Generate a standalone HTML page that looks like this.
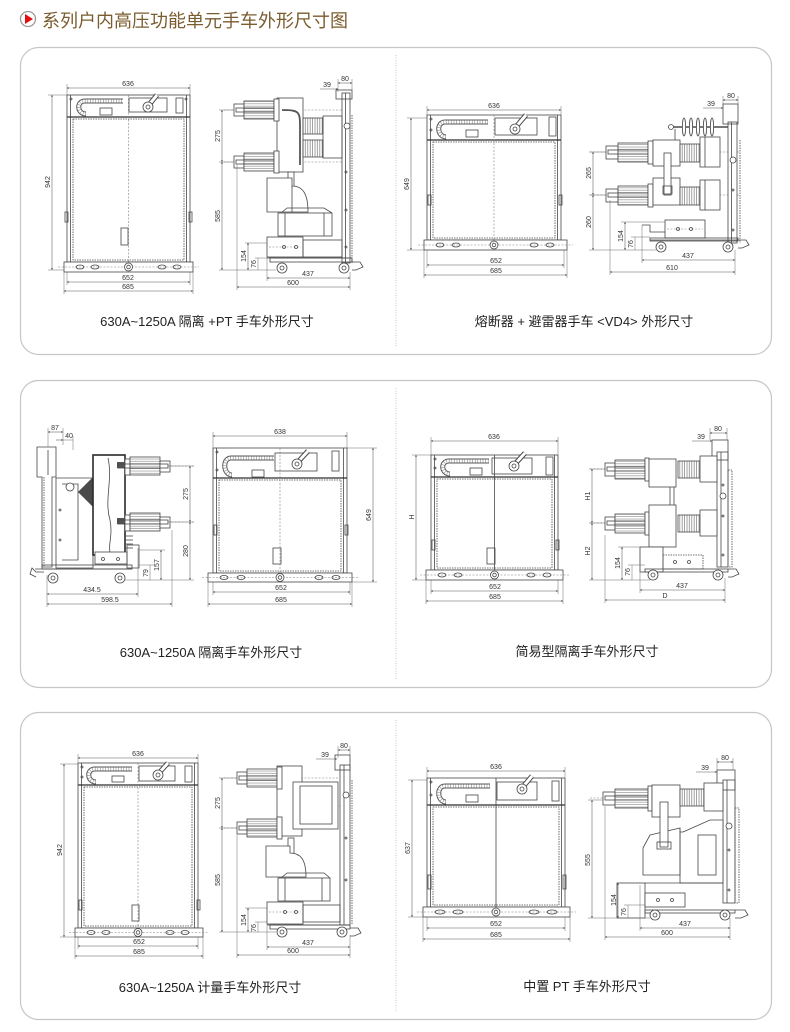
<!DOCTYPE html>
<html><head><meta charset="utf-8">
<style>
html,body{margin:0;padding:0;background:#fff;}
svg{display:block}
.m{fill:none;stroke:#464646;stroke-width:0.8}
.w{fill:#fff;stroke:#464646;stroke-width:0.8}
.k{fill:none;stroke:#2e2e2e;stroke-width:1.3}
.d{fill:none;stroke:#6a6a6a;stroke-width:0.5}
.a{fill:none;stroke:#585858;stroke-width:0.55;marker-start:url(#ar);marker-end:url(#ar)}
.e{fill:none;stroke:#585858;stroke-width:0.55;marker-end:url(#ar)}
.c{fill:none;stroke:#808080;stroke-width:0.6;stroke-dasharray:2 1.5}
.t{font-family:"Liberation Sans",sans-serif;font-size:7px;fill:#333;text-anchor:middle}
.cap{font-family:"Liberation Sans","Noto Sans CJK SC",sans-serif;font-size:13px;fill:#222;text-anchor:middle}
.p{fill:#fff;stroke:#c6c6c6;stroke-width:1.2}
.dv{stroke:#bbb;stroke-width:0.8;stroke-dasharray:1 1.5}
.ch1{fill:none;stroke:#5a5a5a;stroke-width:5}
.ch2{fill:none;stroke:#fff;stroke-width:3}
.ch3{fill:none;stroke:#8a8a8a;stroke-width:3;stroke-dasharray:0.6 2}
.hb{stroke:#484848;stroke-width:5}
.hw{stroke:#fff;stroke-width:3}
</style></head><body>
<svg width="790" height="1032" viewBox="0 0 790 1032" xmlns="http://www.w3.org/2000/svg">
<defs>
<marker id="ar" viewBox="0 0 6 6" refX="5.5" refY="3" markerWidth="4" markerHeight="4" orient="auto-start-reverse"><path d="M0,0.8 L6,3 L0,5.2z" fill="#444"/></marker>
<pattern id="hv" width="2.4" height="10" patternUnits="userSpaceOnUse"><rect width="2.4" height="10" fill="#fff"/><line x1="0.6" y1="0" x2="0.6" y2="10" stroke="#707070" stroke-width="0.65"/></pattern>
<pattern id="hh" width="10" height="2.4" patternUnits="userSpaceOnUse"><rect width="10" height="2.4" fill="#fff"/><line x1="0" y1="0.6" x2="10" y2="0.6" stroke="#7a7a7a" stroke-width="0.55"/></pattern>
</defs>

<!-- Title -->
<circle cx="28" cy="19" r="7.5" fill="#fff" stroke="#999" stroke-width="1.3"/>
<polygon points="25,14 25,24 33,19" fill="#e01010"/>
<text x="42" y="27" style="font-family:'Liberation Sans','Noto Sans CJK SC',sans-serif;font-size:18px;fill:#7a5c2e">系列户内高压功能单元手车外形尺寸图</text>

<!-- Panels -->
<rect class="p" x="20.5" y="47.5" width="751" height="307" rx="18"/>
<rect class="p" x="20.5" y="380.5" width="751" height="307" rx="18"/>
<rect class="p" x="20.5" y="712.5" width="751" height="307" rx="18"/>
<line class="dv" x1="396" y1="55" x2="396" y2="347"/>
<line class="dv" x1="396" y1="388" x2="396" y2="680"/>
<line class="dv" x1="396" y1="720" x2="396" y2="1012"/>

<!-- ============ PANEL 1 LEFT FRONT (A) ============ -->
<g>
<rect class="w" x="67" y="95" width="123" height="167"/>
<line class="m" x1="70.5" y1="95" x2="70.5" y2="262"/>
<line class="m" x1="186.5" y1="95" x2="186.5" y2="262"/>
<line class="k" x1="67" y1="117" x2="190" y2="117"/>
<rect class="m" x="73" y="119" width="111" height="141" stroke-dasharray="1.5 1"/>
<line class="c" x1="128.5" y1="95" x2="128.5" y2="262"/>
<path class="ch1" d="M86,114 C77,114 76,101 85,101 L123,101"/>
<path class="ch2" d="M86,114 C77,114 76,101 85,101 L123,101"/>
<path class="ch3" d="M86,114 C77,114 76,101 85,101 L123,101"/>
<rect class="m" x="100" y="108" width="12" height="7"/>
<rect class="m" x="129" y="98" width="38" height="14"/>
<line class="hb" x1="148" y1="106" x2="157" y2="95"/><line class="hw" x1="148" y1="106" x2="157" y2="95"/>
<circle class="w" cx="148" cy="107" r="5"/><circle class="m" cx="148" cy="107" r="2"/>
<rect class="m" x="176" y="98" width="7" height="15"/>
<circle class="m" cx="71" cy="99" r="1"/><circle class="m" cx="186" cy="99" r="1"/>
<rect class="m" x="121" y="228" width="7" height="17"/>
<rect class="m" x="65" y="212" width="3" height="10"/><rect class="m" x="189" y="212" width="3" height="10"/>
<rect class="w" x="64" y="262" width="129" height="10"/>
<line class="c" x1="58" y1="267" x2="199" y2="267"/>
<circle class="w" cx="128.5" cy="267" r="4"/><circle class="m" cx="128.5" cy="267" r="1.8"/>
<ellipse class="m" cx="80" cy="267" rx="4" ry="2"/><ellipse class="m" cx="95" cy="267" rx="4" ry="2"/>
<ellipse class="m" cx="162" cy="267" rx="4" ry="2"/><ellipse class="m" cx="177" cy="267" rx="4" ry="2"/>
<line class="d" x1="67" y1="84" x2="67" y2="95"/><line class="d" x1="190" y1="84" x2="190" y2="95"/>
<line class="a" x1="67" y1="88" x2="190" y2="88"/><text class="t" x="128" y="86">636</text>
<line class="d" x1="48" y1="95" x2="67" y2="95"/><line class="d" x1="48" y1="270" x2="64" y2="270"/>
<line class="a" x1="52" y1="95" x2="52" y2="270"/><text class="t" transform="translate(50,182) rotate(-90)">942</text>
<line class="d" x1="67" y1="272" x2="67" y2="285"/><line class="d" x1="190" y1="272" x2="190" y2="285"/>
<line class="d" x1="64" y1="272" x2="64" y2="294"/><line class="d" x1="193" y1="272" x2="193" y2="294"/>
<line class="a" x1="67" y1="282" x2="190" y2="282"/><text class="t" x="128" y="280">652</text>
<line class="a" x1="64" y1="291" x2="193" y2="291"/><text class="t" x="128" y="289">685</text>
</g>

<!-- ============ PANEL 1 LEFT SIDE (PT) ============ -->
<g>
<line class="c" x1="224" y1="110" x2="345" y2="110"/>
<line class="c" x1="224" y1="162" x2="345" y2="162"/>
<rect class="w" x="342" y="93" width="8" height="170"/>
<line class="m" x1="345.5" y1="93" x2="345.5" y2="263"/>
<line class="m" x1="352" y1="115" x2="352" y2="263" stroke-dasharray="1.5 1"/>
<rect class="m" x="336" y="90" width="16" height="9"/>
<circle class="w" cx="347" cy="126" r="3"/>
<circle class="m" cx="346" cy="172" r="1"/><circle class="m" cx="346" cy="210" r="1"/><circle class="m" cx="346" cy="247" r="1"/>
<rect class="w" x="277" y="98" width="26" height="74"/>
<rect class="w" x="234" y="104" width="10" height="12"/>
<rect x="244" y="101" width="30" height="18" fill="url(#hh)" stroke="#464646" stroke-width="0.8"/>
<rect class="m" x="236" y="108" width="42" height="4"/>
<rect class="w" x="274" y="99" width="5" height="22"/>
<path d="M282,110 C300,110 300,112 300,128 L300,165" fill="none" stroke="#555" stroke-width="1.8"/>
<rect x="303" y="118" width="20" height="16" fill="url(#hv)" stroke="#464646" stroke-width="0.8"/>
<rect x="303" y="140" width="20" height="17" fill="url(#hv)" stroke="#464646" stroke-width="0.8"/>
<rect class="m" x="323" y="116" width="19" height="42"/>
<rect class="w" x="234" y="156" width="10" height="12"/>
<rect x="244" y="153" width="30" height="18" fill="url(#hh)" stroke="#464646" stroke-width="0.8"/>
<rect class="m" x="236" y="160" width="42" height="4"/>
<rect class="w" x="274" y="151" width="5" height="22"/>
<rect class="w" x="288" y="172" width="6" height="36"/><rect class="m" x="287" y="203" width="8" height="5"/>
<path class="w" d="M267,178 L292,178 L292,186 C303,186 308,194 308,212 L267,212 Z"/>
<line class="m" x1="292" y1="186" x2="292" y2="212"/>
<path class="m" d="M281,213 L287,208 L324,208 L332,213"/>
<rect class="w" x="278" y="213" width="54" height="23"/>
<line class="m" x1="285" y1="213" x2="285" y2="236"/><line class="m" x1="324" y1="213" x2="324" y2="236"/>
<rect class="w" x="267" y="237" width="36" height="20"/>
<line class="c" x1="269" y1="247" x2="301" y2="247"/>
<circle class="m" cx="284" cy="247" r="1.5"/><circle class="m" cx="296" cy="247" r="1.5"/>
<rect class="m" x="303" y="240" width="39" height="17"/>
<line class="m" x1="267" y1="258" x2="352" y2="258"/>
<rect class="m" x="270" y="258" width="82" height="4"/>
<circle class="w" cx="282" cy="268" r="5"/><circle class="m" cx="282" cy="268" r="2"/>
<circle class="w" cx="344" cy="268" r="5"/><circle class="m" cx="344" cy="268" r="2"/>
<path class="m" d="M352,262 L360,262 L363,267 L356,270 L352,270"/>
<line class="d" x1="219" y1="110" x2="234" y2="110"/><line class="d" x1="219" y1="162" x2="234" y2="162"/><line class="d" x1="219" y1="270" x2="276" y2="270"/>
<line class="a" x1="222" y1="110" x2="222" y2="162"/><text class="t" transform="translate(220,136) rotate(-90)">275</text>
<line class="a" x1="222" y1="162" x2="222" y2="270"/><text class="t" transform="translate(220,216) rotate(-90)">585</text>
<line class="d" x1="245" y1="243" x2="267" y2="243"/><line class="d" x1="255" y1="258" x2="267" y2="258"/>
<line class="a" x1="248" y1="243" x2="248" y2="270"/><text class="t" transform="translate(246,256) rotate(-90)">154</text>
<line class="d" x1="258" y1="258" x2="258" y2="270"/><text class="t" transform="translate(256,264) rotate(-90)">76</text>
<line class="d" x1="237" y1="165" x2="237" y2="290"/><line class="d" x1="267" y1="258" x2="267" y2="281"/><line class="d" x1="350" y1="272" x2="350" y2="290"/>
<line class="a" x1="267" y1="278" x2="350" y2="278"/><text class="t" x="308" y="276">437</text>
<line class="a" x1="237" y1="287" x2="350" y2="287"/><text class="t" x="293" y="285">600</text>
<line class="d" x1="338" y1="79" x2="338" y2="92"/><line class="d" x1="352" y1="79" x2="352" y2="90"/>
<line class="a" x1="338" y1="83" x2="352" y2="83"/><text class="t" x="345" y="81">80</text>
<line class="e" x1="320" y1="89" x2="338" y2="89"/><text class="t" x="327" y="87">39</text>
</g>

<text class="cap" x="207" y="326">630A~1250A 隔离 +PT 手车外形尺寸</text>

<!-- ============ PANEL 1 RIGHT FRONT (B) ============ -->
<g>
<rect class="w" x="427" y="115" width="134" height="125"/>
<line class="m" x1="430.5" y1="115" x2="430.5" y2="240"/>
<line class="m" x1="557.5" y1="115" x2="557.5" y2="240"/>
<line class="k" x1="427" y1="140" x2="561" y2="140"/>
<rect class="m" x="433" y="142" width="122" height="96" stroke-dasharray="1.5 1"/>
<line class="c" x1="494" y1="115" x2="494" y2="240"/>
<path class="ch1" d="M446,137 C437,137 436,122 445,122 L488,122"/>
<path class="ch2" d="M446,137 C437,137 436,122 445,122 L488,122"/>
<path class="ch3" d="M446,137 C437,137 436,122 445,122 L488,122"/>
<rect class="m" x="466" y="130" width="12" height="7"/>
<rect class="m" x="495" y="118" width="42" height="17"/>
<line class="hb" x1="515" y1="128" x2="526" y2="115"/><line class="hw" x1="515" y1="128" x2="526" y2="115"/>
<circle class="w" cx="515" cy="129" r="5"/><circle class="m" cx="515" cy="129" r="2"/>
<rect class="m" x="549" y="117" width="7" height="19"/>
<circle class="m" cx="431" cy="119" r="1"/><circle class="m" cx="431" cy="130" r="1"/>
<rect class="m" x="428" y="195" width="3" height="10"/><rect class="m" x="559" y="195" width="3" height="10"/>
<rect class="w" x="424" y="240" width="143" height="10"/>
<line class="c" x1="418" y1="245" x2="573" y2="245"/>
<circle class="w" cx="494" cy="245" r="4"/><circle class="m" cx="494" cy="245" r="1.8"/>
<ellipse class="m" cx="440" cy="245" rx="4" ry="2"/><ellipse class="m" cx="456" cy="245" rx="4" ry="2"/>
<ellipse class="m" cx="534" cy="245" rx="4" ry="2"/><ellipse class="m" cx="550" cy="245" rx="4" ry="2"/>
<line class="d" x1="427" y1="106" x2="427" y2="115"/><line class="d" x1="561" y1="106" x2="561" y2="115"/>
<line class="a" x1="427" y1="110" x2="561" y2="110"/><text class="t" x="494" y="108">636</text>
<line class="d" x1="407" y1="118" x2="427" y2="118"/><line class="d" x1="407" y1="250" x2="424" y2="250"/>
<line class="a" x1="411" y1="118" x2="411" y2="250"/><text class="t" transform="translate(409,184) rotate(-90)">649</text>
<line class="d" x1="427" y1="250" x2="427" y2="268"/><line class="d" x1="564" y1="250" x2="564" y2="268"/>
<line class="d" x1="424" y1="250" x2="424" y2="278"/><line class="d" x1="567" y1="250" x2="567" y2="278"/>
<line class="a" x1="427" y1="265" x2="564" y2="265"/><text class="t" x="496" y="263">652</text>
<line class="a" x1="424" y1="275" x2="567" y2="275"/><text class="t" x="496" y="273">685</text>
</g>

<!-- ============ PANEL 1 RIGHT SIDE (VD4 fuse+arrester) ============ -->
<g>
<line class="c" x1="590" y1="152" x2="740" y2="152"/>
<line class="c" x1="590" y1="195" x2="740" y2="195"/>
<rect class="w" x="728" y="122" width="9" height="121"/>
<line class="m" x1="731.5" y1="122" x2="731.5" y2="243"/>
<line class="m" x1="740" y1="140" x2="740" y2="243" stroke-dasharray="1.5 1"/>
<rect class="m" x="723" y="104" width="15" height="20"/>
<circle class="w" cx="733" cy="160" r="3"/>
<circle class="m" cx="733" cy="190" r="1"/><circle class="m" cx="733" cy="230" r="1"/>
<line x1="673" y1="127" x2="728" y2="127" stroke="#4a4a4a" stroke-width="1.5"/>
<ellipse class="w" cx="684" cy="127" rx="1.6" ry="9"/><ellipse class="w" cx="691" cy="127" rx="1.6" ry="9"/>
<ellipse class="w" cx="698" cy="127" rx="1.6" ry="9"/><ellipse class="w" cx="705" cy="127" rx="1.6" ry="9"/>
<ellipse class="w" cx="712" cy="127" rx="1.6" ry="9"/>
<circle class="w" cx="671" cy="127" r="2.5"/>
<line class="m" x1="675" y1="129" x2="675" y2="142"/>
<rect class="w" x="606" y="146" width="12" height="13"/>
<rect x="618" y="143" width="30" height="19" fill="url(#hh)" stroke="#464646" stroke-width="0.8"/>
<rect class="m" x="608" y="150" width="42" height="4"/>
<rect class="w" x="648" y="141" width="5" height="23"/>
<rect class="w" x="653" y="140" width="27" height="26"/>
<rect x="680" y="144" width="20" height="18" fill="url(#hv)" stroke="#464646" stroke-width="0.8"/>
<rect class="w" x="700" y="137" width="20" height="30"/>
<line class="m" x1="705" y1="137" x2="705" y2="167"/>
<rect class="w" x="606" y="189" width="12" height="13"/>
<rect x="618" y="186" width="30" height="19" fill="url(#hh)" stroke="#464646" stroke-width="0.8"/>
<rect class="m" x="608" y="193" width="42" height="4"/>
<rect class="w" x="648" y="184" width="5" height="23"/>
<rect class="w" x="653" y="178" width="27" height="27"/>
<rect x="680" y="187" width="20" height="18" fill="url(#hv)" stroke="#464646" stroke-width="0.8"/>
<rect class="w" x="700" y="180" width="20" height="30"/>
<line class="m" x1="705" y1="180" x2="705" y2="210"/>
<rect class="w" x="664" y="153" width="7" height="42"/>
<rect class="m" x="663" y="186" width="9" height="8"/>
<rect class="w" x="665" y="220" width="40" height="18"/>
<line class="c" x1="667" y1="229" x2="703" y2="229"/>
<circle class="m" cx="678" cy="229" r="1.5"/><circle class="m" cx="691" cy="229" r="1.5"/>
<path class="m" d="M642,225 L650,225 L650,232 L665,232"/>
<line class="m" x1="650" y1="240" x2="738" y2="240"/>
<rect class="m" x="650" y="238" width="88" height="3"/>
<circle class="w" cx="661" cy="247" r="5"/><circle class="m" cx="661" cy="247" r="2"/>
<circle class="w" cx="728" cy="247" r="5"/><circle class="m" cx="728" cy="247" r="2"/>
<path class="m" d="M738,240 L746,240 L749,245 L742,248 L738,248"/>
<line class="d" x1="589" y1="152" x2="606" y2="152"/><line class="d" x1="589" y1="195" x2="606" y2="195"/><line class="d" x1="589" y1="250" x2="656" y2="250"/>
<line class="a" x1="593" y1="152" x2="593" y2="195"/><text class="t" transform="translate(591,173) rotate(-90)">265</text>
<line class="a" x1="593" y1="195" x2="593" y2="250"/><text class="t" transform="translate(591,222) rotate(-90)">260</text>
<line class="d" x1="621" y1="222" x2="665" y2="222"/><line class="d" x1="631" y1="237" x2="650" y2="237"/>
<line class="a" x1="625" y1="222" x2="625" y2="250"/><text class="t" transform="translate(623,236) rotate(-90)">154</text>
<line class="d" x1="635" y1="237" x2="635" y2="250"/><text class="t" transform="translate(633,244) rotate(-90)">76</text>
<line class="d" x1="642" y1="225" x2="642" y2="263"/><line class="d" x1="735" y1="250" x2="735" y2="275"/><line class="d" x1="610" y1="200" x2="610" y2="275"/>
<line class="a" x1="642" y1="260" x2="735" y2="260"/><text class="t" x="688" y="258">437</text>
<line class="a" x1="610" y1="272" x2="735" y2="272"/><text class="t" x="672" y="270">610</text>
<line class="d" x1="723" y1="96" x2="723" y2="104"/><line class="d" x1="738" y1="96" x2="738" y2="104"/>
<line class="a" x1="723" y1="100" x2="738" y2="100"/><text class="t" x="731" y="98">80</text>
<line class="e" x1="703" y1="108" x2="723" y2="108"/><text class="t" x="711" y="106">39</text>
</g>

<text class="cap" x="584" y="326">熔断器 + 避雷器手车 &lt;VD4&gt; 外形尺寸</text>

<!-- ============ PANEL 2 LEFT SIDE (mirrored) ============ -->
<g>
<line class="c" x1="115" y1="466" x2="195" y2="466"/>
<line class="c" x1="115" y1="522" x2="195" y2="522"/>
<path class="w" d="M37,447 L56,447 L56,477 L52,477 L52,567 L42,567 L42,477 L37,477 Z"/>
<line class="m" x1="44" y1="477" x2="44" y2="567" stroke-dasharray="1.5 1"/>
<line class="m" x1="48" y1="450" x2="48" y2="475"/>
<path class="w" d="M56,478 L93,478 L93,568 L56,568 Z"/>
<path class="m" d="M62,484 L78,484 L78,560 L62,560"/>
<circle class="w" cx="70" cy="487" r="4"/>
<circle class="m" cx="60" cy="510" r="1"/><circle class="m" cx="60" cy="540" r="1"/>
<polygon points="78,492 93,477 93,507" fill="#4a4a4a"/>
<rect x="93" y="455" width="32" height="100" fill="#fff" stroke="#2a2a2a" stroke-width="1.6"/>
<path class="m" d="M108,458 C113,480 104,500 110,520 C113,535 108,545 110,552"/>
<rect x="117" y="462" width="8" height="6" fill="#555"/>
<rect x="117" y="518" width="8" height="6" fill="#555"/>
<rect class="w" x="125" y="459" width="5" height="16"/>
<rect x="130" y="457" width="30" height="18" fill="url(#hh)" stroke="#464646" stroke-width="0.8"/>
<rect class="w" x="160" y="461" width="10" height="11"/>
<rect class="m" x="118" y="464" width="50" height="4"/>
<rect class="w" x="125" y="515" width="5" height="16"/>
<rect x="130" y="513" width="30" height="18" fill="url(#hh)" stroke="#464646" stroke-width="0.8"/>
<rect class="w" x="160" y="517" width="10" height="11"/>
<rect class="m" x="118" y="520" width="50" height="4"/>
<line class="m" x1="125" y1="536" x2="133" y2="536"/><line class="m" x1="125" y1="540" x2="133" y2="540"/>
<line class="m" x1="125" y1="544" x2="133" y2="544"/><line class="m" x1="125" y1="548" x2="133" y2="548"/>
<rect class="w" x="95" y="552" width="32" height="12"/>
<circle class="m" cx="103" cy="559" r="1.5"/><circle class="m" cx="118" cy="559" r="1.5"/>
<rect class="m" x="127" y="545" width="12" height="23"/>
<rect class="m" x="42" y="565" width="90" height="4"/>
<line class="m" x1="35" y1="569" x2="132" y2="569"/>
<circle class="w" cx="53" cy="578" r="5"/><circle class="m" cx="53" cy="578" r="2"/>
<circle class="w" cx="120" cy="578" r="5"/><circle class="m" cx="120" cy="578" r="2"/>
<path class="m" d="M44,572 L36,572 L32,568 L30,574 L36,577"/>
<line class="d" x1="168" y1="466" x2="194" y2="466"/><line class="d" x1="168" y1="522" x2="194" y2="522"/><line class="d" x1="125" y1="580" x2="194" y2="580"/>
<line class="a" x1="190" y1="466" x2="190" y2="522"/><text class="t" transform="translate(188,494) rotate(-90)">275</text>
<line class="a" x1="190" y1="522" x2="190" y2="580"/><text class="t" transform="translate(188,551) rotate(-90)">280</text>
<line class="d" x1="139" y1="550" x2="165" y2="550"/><line class="d" x1="139" y1="565" x2="154" y2="565"/>
<line class="a" x1="161" y1="550" x2="161" y2="580"/><text class="t" transform="translate(159,565) rotate(-90)">157</text>
<line class="d" x1="150" y1="565" x2="150" y2="580"/><text class="t" transform="translate(148,573) rotate(-90)">79</text>
<line class="d" x1="47" y1="575" x2="47" y2="607"/><line class="d" x1="138" y1="548" x2="138" y2="597"/><line class="d" x1="172" y1="530" x2="172" y2="607"/>
<line class="a" x1="47" y1="594" x2="138" y2="594"/><text class="t" x="92" y="592">434.5</text>
<line class="a" x1="47" y1="604" x2="172" y2="604"/><text class="t" x="110" y="602">598.5</text>
<line class="d" x1="48" y1="428" x2="48" y2="447"/><line class="d" x1="63" y1="428" x2="63" y2="445"/><line class="d" x1="73" y1="436" x2="73" y2="450"/>
<line class="a" x1="48" y1="432" x2="63" y2="432"/><text class="t" x="55" y="430">87</text>
<line class="e" x1="56" y1="440" x2="63" y2="440"/><line class="d" x1="63" y1="440" x2="73" y2="440"/><text class="t" x="69" y="438">40</text>
</g>

<!-- ============ PANEL 2 LEFT FRONT (C) ============ -->
<g>
<rect class="w" x="213" y="448" width="134" height="125"/>
<line class="m" x1="216.5" y1="448" x2="216.5" y2="573"/>
<line class="m" x1="343.5" y1="448" x2="343.5" y2="573"/>
<line class="k" x1="213" y1="478" x2="347" y2="478"/>
<rect class="m" x="219" y="480" width="122" height="91" stroke-dasharray="1.5 1"/>
<line class="c" x1="280" y1="448" x2="280" y2="573"/>
<path class="ch1" d="M232,475 C223,475 222,458 231,458 L274,458"/>
<path class="ch2" d="M232,475 C223,475 222,458 231,458 L274,458"/>
<path class="ch3" d="M232,475 C223,475 222,458 231,458 L274,458"/>
<rect class="m" x="252" y="470" width="12" height="7"/>
<rect class="m" x="275" y="453" width="42" height="18"/>
<line class="hb" x1="297" y1="463" x2="308" y2="451"/><line class="hw" x1="297" y1="463" x2="308" y2="451"/>
<circle class="w" cx="297" cy="464" r="5"/><circle class="m" cx="297" cy="464" r="2"/>
<rect class="m" x="332" y="451" width="7" height="20"/>
<circle class="m" cx="217" cy="452" r="1"/><circle class="m" cx="217" cy="470" r="1"/>
<rect class="m" x="273" y="548" width="8" height="16"/>
<rect class="m" x="214" y="525" width="3" height="10"/><rect class="m" x="345" y="525" width="3" height="10"/>
<rect class="w" x="208" y="573" width="144" height="9"/>
<line class="c" x1="202" y1="577.5" x2="358" y2="577.5"/>
<circle class="w" cx="280" cy="577.5" r="4"/><circle class="m" cx="280" cy="577.5" r="1.8"/>
<ellipse class="m" cx="224" cy="577.5" rx="4" ry="2"/><ellipse class="m" cx="241" cy="577.5" rx="4" ry="2"/>
<ellipse class="m" cx="319" cy="577.5" rx="4" ry="2"/><ellipse class="m" cx="336" cy="577.5" rx="4" ry="2"/>
<line class="d" x1="213" y1="432" x2="213" y2="448"/><line class="d" x1="347" y1="432" x2="347" y2="448"/>
<line class="a" x1="213" y1="436" x2="347" y2="436"/><text class="t" x="280" y="434">638</text>
<line class="d" x1="347" y1="448" x2="377" y2="448"/><line class="d" x1="352" y1="582" x2="377" y2="582"/>
<line class="a" x1="373" y1="448" x2="373" y2="582"/><text class="t" transform="translate(371,515) rotate(-90)">649</text>
<line class="d" x1="213" y1="582" x2="213" y2="595"/><line class="d" x1="350" y1="582" x2="350" y2="595"/>
<line class="d" x1="208" y1="582" x2="208" y2="607"/><line class="d" x1="352" y1="582" x2="352" y2="607"/>
<line class="a" x1="213" y1="592" x2="350" y2="592"/><text class="t" x="281" y="590">652</text>
<line class="a" x1="208" y1="604" x2="352" y2="604"/><text class="t" x="281" y="602">685</text>
</g>

<text class="cap" x="211" y="657">630A~1250A 隔离手车外形尺寸</text>

<!-- ============ PANEL 2 RIGHT FRONT (D) ============ -->
<g>
<rect class="w" x="431" y="455" width="127" height="115"/>
<line class="m" x1="434.5" y1="455" x2="434.5" y2="570"/>
<line class="m" x1="554.5" y1="455" x2="554.5" y2="570"/>
<line class="k" x1="431" y1="477" x2="558" y2="477"/>
<rect class="m" x="437" y="479" width="115" height="89" stroke-dasharray="1.5 1"/>
<line class="m" x1="494.5" y1="455" x2="494.5" y2="570"/>
<path class="ch1" d="M450,474 C441,474 440,461 449,461 L489,461"/>
<path class="ch2" d="M450,474 C441,474 440,461 449,461 L489,461"/>
<path class="ch3" d="M450,474 C441,474 440,461 449,461 L489,461"/>
<rect class="m" x="470" y="468" width="12" height="7"/>
<rect class="m" x="492" y="458" width="40" height="16"/>
<line class="hb" x1="514" y1="465" x2="525" y2="453"/><line class="hw" x1="514" y1="465" x2="525" y2="453"/>
<circle class="w" cx="514" cy="466" r="5"/><circle class="m" cx="514" cy="466" r="2"/>
<rect class="m" x="546" y="457" width="7" height="18"/>
<circle class="m" cx="435" cy="459" r="1"/><circle class="m" cx="435" cy="468" r="1"/>
<rect class="m" x="487" y="548" width="8" height="16"/>
<rect class="m" x="432" y="540" width="3" height="10"/><rect class="m" x="556" y="540" width="3" height="10"/>
<rect class="w" x="426" y="570" width="137" height="10"/>
<line class="c" x1="420" y1="575" x2="569" y2="575"/>
<circle class="w" cx="494.5" cy="575" r="4"/><circle class="m" cx="494.5" cy="575" r="1.8"/>
<ellipse class="m" cx="442" cy="575" rx="4" ry="2"/><ellipse class="m" cx="458" cy="575" rx="4" ry="2"/>
<ellipse class="m" cx="531" cy="575" rx="4" ry="2"/><ellipse class="m" cx="547" cy="575" rx="4" ry="2"/>
<line class="d" x1="431" y1="437" x2="431" y2="455"/><line class="d" x1="558" y1="437" x2="558" y2="455"/>
<line class="a" x1="431" y1="441" x2="558" y2="441"/><text class="t" x="494" y="439">636</text>
<line class="d" x1="412" y1="455" x2="431" y2="455"/><line class="d" x1="412" y1="580" x2="426" y2="580"/>
<line class="a" x1="416" y1="455" x2="416" y2="580"/><text class="t" transform="translate(414,517) rotate(-90)">H</text>
<line class="d" x1="431" y1="580" x2="431" y2="594"/><line class="d" x1="558" y1="580" x2="558" y2="594"/>
<line class="d" x1="426" y1="580" x2="426" y2="604"/><line class="d" x1="563" y1="580" x2="563" y2="604"/>
<line class="a" x1="431" y1="591" x2="558" y2="591"/><text class="t" x="495" y="589">652</text>
<line class="a" x1="426" y1="601" x2="563" y2="601"/><text class="t" x="495" y="599">685</text>
</g>

<!-- ============ PANEL 2 RIGHT SIDE ============ -->
<g>
<line class="c" x1="590" y1="469" x2="728" y2="469"/>
<line class="c" x1="590" y1="523" x2="728" y2="523"/>
<rect class="w" x="717" y="452" width="11" height="115"/>
<line class="m" x1="721" y1="452" x2="721" y2="567"/>
<rect class="m" x="712" y="440" width="16" height="20"/>
<rect class="m" x="728" y="470" width="4" height="97" stroke-dasharray="1.5 1"/>
<circle class="w" cx="723" cy="496" r="3"/>
<circle class="m" cx="723" cy="485" r="1"/><circle class="m" cx="723" cy="516" r="1"/><circle class="m" cx="723" cy="555" r="1"/>
<rect class="w" x="605" y="463" width="10" height="13"/>
<rect x="615" y="460" width="30" height="19" fill="url(#hh)" stroke="#464646" stroke-width="0.8"/>
<rect class="m" x="607" y="467" width="40" height="4"/>
<rect class="w" x="645" y="458" width="4" height="23"/>
<rect class="w" x="649" y="459" width="27" height="28"/>
<rect x="678" y="461" width="22" height="17" fill="url(#hv)" stroke="#464646" stroke-width="0.8"/>
<rect class="w" x="700" y="456" width="17" height="26"/>
<rect class="w" x="605" y="517" width="10" height="13"/>
<rect x="615" y="514" width="30" height="19" fill="url(#hh)" stroke="#464646" stroke-width="0.8"/>
<rect class="m" x="607" y="521" width="40" height="4"/>
<rect class="w" x="645" y="512" width="4" height="23"/>
<rect class="w" x="649" y="505" width="27" height="42"/>
<rect x="678" y="515" width="22" height="17" fill="url(#hv)" stroke="#464646" stroke-width="0.8"/>
<rect class="w" x="700" y="510" width="17" height="26"/>
<line class="m" x1="670" y1="487" x2="670" y2="505"/><line class="m" x1="674" y1="487" x2="674" y2="505"/>
<rect class="w" x="640" y="547" width="23" height="25"/>
<rect class="m" x="663" y="555" width="40" height="14" stroke-dasharray="1.5 1"/>
<circle class="m" cx="675" cy="562" r="1.5"/><circle class="m" cx="689" cy="562" r="1.5"/>
<rect class="m" x="645" y="569" width="83" height="3"/>
<circle class="w" cx="653" cy="575" r="5"/><circle class="m" cx="653" cy="575" r="2"/>
<circle class="w" cx="718" cy="575" r="5"/><circle class="m" cx="718" cy="575" r="2"/>
<path class="m" d="M728,569 L736,569 L739,574 L732,577 L728,577"/>
<line class="d" x1="589" y1="469" x2="605" y2="469"/><line class="d" x1="589" y1="523" x2="605" y2="523"/><line class="d" x1="589" y1="580" x2="650" y2="580"/>
<line class="a" x1="592" y1="469" x2="592" y2="523"/><text class="t" transform="translate(590,496) rotate(-90)">H1</text>
<line class="a" x1="592" y1="523" x2="592" y2="580"/><text class="t" transform="translate(590,551) rotate(-90)">H2</text>
<line class="d" x1="618" y1="547" x2="640" y2="547"/><line class="d" x1="628" y1="565" x2="645" y2="565"/>
<line class="a" x1="622" y1="547" x2="622" y2="580"/><text class="t" transform="translate(620,563) rotate(-90)">154</text>
<line class="d" x1="632" y1="565" x2="632" y2="580"/><text class="t" transform="translate(630,572) rotate(-90)">76</text>
<line class="d" x1="640" y1="547" x2="640" y2="593"/><line class="d" x1="605" y1="535" x2="605" y2="603"/><line class="d" x1="725" y1="578" x2="725" y2="603"/>
<line class="a" x1="640" y1="590" x2="725" y2="590"/><text class="t" x="682" y="588">437</text>
<line class="a" x1="605" y1="600" x2="725" y2="600"/><text class="t" x="665" y="598">D</text>
<line class="d" x1="710" y1="428" x2="710" y2="440"/><line class="d" x1="727" y1="428" x2="727" y2="440"/>
<line class="a" x1="710" y1="433" x2="727" y2="433"/><text class="t" x="718" y="431">80</text>
<line class="e" x1="692" y1="441" x2="712" y2="441"/><text class="t" x="701" y="439">39</text>
</g>

<text class="cap" x="587" y="656">简易型隔离手车外形尺寸</text>

<!-- ============ PANEL 3 LEFT FRONT (E) ============ -->
<g>
<rect class="w" x="78" y="763" width="120" height="165"/>
<line class="m" x1="81.5" y1="763" x2="81.5" y2="928"/>
<line class="m" x1="194.5" y1="763" x2="194.5" y2="928"/>
<line class="k" x1="78" y1="785" x2="198" y2="785"/>
<rect class="m" x="84" y="787" width="108" height="139" stroke-dasharray="1.5 1"/>
<line class="c" x1="138" y1="763" x2="138" y2="928"/>
<path class="ch1" d="M96,782 C87,782 86,769 95,769 L132,769"/>
<path class="ch2" d="M96,782 C87,782 86,769 95,769 L132,769"/>
<path class="ch3" d="M96,782 C87,782 86,769 95,769 L132,769"/>
<rect class="m" x="112" y="776" width="12" height="6"/>
<rect class="m" x="139" y="766" width="36" height="15"/>
<line class="hb" x1="158" y1="774" x2="168" y2="763"/><line class="hw" x1="158" y1="774" x2="168" y2="763"/>
<circle class="w" cx="158" cy="775" r="5"/><circle class="m" cx="158" cy="775" r="2"/>
<rect class="m" x="185" y="766" width="7" height="16"/>
<circle class="m" cx="82" cy="767" r="1"/><circle class="m" cx="82" cy="777" r="1"/>
<rect class="m" x="132" y="905" width="7" height="16"/>
<rect class="m" x="79" y="900" width="3" height="10"/><rect class="m" x="197" y="900" width="3" height="10"/>
<rect class="w" x="75" y="928" width="128" height="9"/>
<line class="c" x1="69" y1="932.5" x2="209" y2="932.5"/>
<circle class="w" cx="138" cy="932.5" r="4"/><circle class="m" cx="138" cy="932.5" r="1.8"/>
<ellipse class="m" cx="91" cy="932.5" rx="4" ry="2"/><ellipse class="m" cx="106" cy="932.5" rx="4" ry="2"/>
<ellipse class="m" cx="170" cy="932.5" rx="4" ry="2"/><ellipse class="m" cx="185" cy="932.5" rx="4" ry="2"/>
<line class="d" x1="78" y1="754" x2="78" y2="763"/><line class="d" x1="198" y1="754" x2="198" y2="763"/>
<line class="a" x1="78" y1="758" x2="198" y2="758"/><text class="t" x="138" y="756">636</text>
<line class="d" x1="60" y1="764" x2="78" y2="764"/><line class="d" x1="60" y1="937" x2="75" y2="937"/>
<line class="a" x1="64" y1="764" x2="64" y2="937"/><text class="t" transform="translate(62,850) rotate(-90)">942</text>
<line class="d" x1="78" y1="937" x2="78" y2="949"/><line class="d" x1="198" y1="937" x2="198" y2="949"/>
<line class="d" x1="75" y1="937" x2="75" y2="959"/><line class="d" x1="203" y1="937" x2="203" y2="959"/>
<line class="a" x1="78" y1="946" x2="198" y2="946"/><text class="t" x="139" y="944">652</text>
<line class="a" x1="75" y1="956" x2="203" y2="956"/><text class="t" x="139" y="954">685</text>
</g>

<!-- ============ PANEL 3 LEFT SIDE (metering) ============ -->
<g>
<line class="c" x1="224" y1="778" x2="345" y2="778"/>
<line class="c" x1="224" y1="828" x2="345" y2="828"/>
<line class="c" x1="290" y1="806" x2="345" y2="806"/>
<rect class="w" x="340" y="765" width="10" height="160"/>
<line class="m" x1="344" y1="765" x2="344" y2="925"/>
<line class="m" x1="352" y1="780" x2="352" y2="925" stroke-dasharray="1.5 1"/>
<rect class="m" x="335" y="755" width="15" height="15"/>
<circle class="w" cx="346" cy="795" r="3"/>
<circle class="m" cx="346" cy="838" r="1"/><circle class="m" cx="346" cy="880" r="1"/>
<rect class="w" x="277" y="766" width="25" height="70"/>
<rect class="w" x="237" y="772" width="10" height="12"/>
<rect x="247" y="769" width="30" height="18" fill="url(#hh)" stroke="#464646" stroke-width="0.8"/>
<rect class="m" x="239" y="776" width="42" height="4"/>
<rect class="w" x="277" y="767" width="5" height="22"/>
<rect class="w" x="293" y="782" width="45" height="47"/>
<rect class="m" x="300" y="786" width="32" height="38"/>
<rect class="w" x="237" y="822" width="10" height="12"/>
<rect x="247" y="819" width="30" height="18" fill="url(#hh)" stroke="#464646" stroke-width="0.8"/>
<rect class="m" x="239" y="826" width="42" height="4"/>
<rect class="w" x="277" y="817" width="5" height="22"/>
<rect class="w" x="288" y="838" width="6" height="38"/><rect class="m" x="287" y="870" width="8" height="5"/>
<path class="w" d="M266,846 L290,846 L290,853 C301,853 306,860 306,877 L266,877 Z"/>
<path class="m" d="M281,878 L287,873 L324,873 L330,878"/>
<rect class="w" x="278" y="878" width="52" height="23"/>
<line class="m" x1="285" y1="878" x2="285" y2="901"/><line class="m" x1="322" y1="878" x2="322" y2="901"/>
<rect class="w" x="267" y="902" width="36" height="22"/>
<line class="c" x1="269" y1="912" x2="301" y2="912"/>
<circle class="m" cx="285" cy="912" r="1.5"/><circle class="m" cx="296" cy="912" r="1.5"/>
<rect class="m" x="303" y="905" width="37" height="17"/>
<line class="m" x1="267" y1="925" x2="350" y2="925"/>
<rect class="m" x="270" y="925" width="80" height="4"/>
<circle class="w" cx="282" cy="932" r="5"/><circle class="m" cx="282" cy="932" r="2"/>
<circle class="w" cx="342" cy="932" r="5"/><circle class="m" cx="342" cy="932" r="2"/>
<path class="m" d="M350,928 L358,928 L361,933 L354,936 L350,936"/>
<line class="d" x1="219" y1="778" x2="237" y2="778"/><line class="d" x1="219" y1="828" x2="237" y2="828"/><line class="d" x1="219" y1="932" x2="276" y2="932"/>
<line class="a" x1="222" y1="778" x2="222" y2="828"/><text class="t" transform="translate(220,803) rotate(-90)">275</text>
<line class="a" x1="222" y1="828" x2="222" y2="932"/><text class="t" transform="translate(220,880) rotate(-90)">585</text>
<line class="d" x1="237" y1="835" x2="237" y2="958"/>
<line class="d" x1="245" y1="908" x2="267" y2="908"/><line class="d" x1="255" y1="922" x2="267" y2="922"/>
<line class="a" x1="248" y1="908" x2="248" y2="932"/><text class="t" transform="translate(246,920) rotate(-90)">154</text>
<line class="d" x1="258" y1="922" x2="258" y2="932"/><text class="t" transform="translate(256,928) rotate(-90)">76</text>
<line class="d" x1="267" y1="925" x2="267" y2="950"/><line class="d" x1="350" y1="935" x2="350" y2="958"/>
<line class="a" x1="267" y1="947" x2="350" y2="947"/><text class="t" x="308" y="945">437</text>
<line class="a" x1="237" y1="955" x2="350" y2="955"/><text class="t" x="293" y="953">600</text>
<line class="d" x1="338" y1="746" x2="338" y2="758"/><line class="d" x1="350" y1="746" x2="350" y2="755"/>
<line class="a" x1="338" y1="750" x2="350" y2="750"/><text class="t" x="344" y="748">80</text>
<line class="e" x1="316" y1="759" x2="337" y2="759"/><text class="t" x="325" y="757">39</text>
</g>

<text class="cap" x="210" y="992">630A~1250A 计量手车外形尺寸</text>

<!-- ============ PANEL 3 RIGHT FRONT (F) ============ -->
<g>
<rect class="w" x="427" y="778" width="138" height="129"/>
<line class="m" x1="430.5" y1="778" x2="430.5" y2="907"/>
<line class="m" x1="561.5" y1="778" x2="561.5" y2="907"/>
<line class="k" x1="427" y1="805" x2="565" y2="805"/>
<rect class="m" x="433" y="807" width="126" height="98" stroke-dasharray="1.5 1"/>
<line class="m" x1="496" y1="778" x2="496" y2="907"/>
<path class="ch1" d="M446,802 C437,802 436,786 445,786 L490,786"/>
<path class="ch2" d="M446,802 C437,802 436,786 445,786 L490,786"/>
<path class="ch3" d="M446,802 C437,802 436,786 445,786 L490,786"/>
<rect class="m" x="466" y="795" width="12" height="7"/>
<rect class="m" x="497" y="782" width="40" height="18" stroke="#888"/>
<line class="hb" x1="522" y1="788" x2="532" y2="776"/><line class="hw" x1="522" y1="788" x2="532" y2="776"/>
<circle class="w" cx="522" cy="789" r="5"/><circle class="m" cx="522" cy="789" r="2"/>
<rect class="m" x="552" y="781" width="7" height="20"/>
<circle class="m" cx="431" cy="782" r="1"/><circle class="m" cx="431" cy="795" r="1"/>
<rect class="m" x="428" y="875" width="3" height="14"/><rect class="m" x="563" y="875" width="3" height="14"/>
<rect class="w" x="423" y="907" width="147" height="10"/>
<line class="c" x1="417" y1="912" x2="576" y2="912"/>
<circle class="w" cx="496" cy="912" r="4"/><circle class="m" cx="496" cy="912" r="1.8"/>
<ellipse class="m" cx="440" cy="912" rx="5" ry="2"/><ellipse class="m" cx="458" cy="912" rx="5" ry="2"/>
<ellipse class="m" cx="534" cy="912" rx="5" ry="2"/><ellipse class="m" cx="552" cy="912" rx="5" ry="2"/>
<line class="d" x1="427" y1="767" x2="427" y2="778"/><line class="d" x1="565" y1="767" x2="565" y2="778"/>
<line class="a" x1="427" y1="771" x2="565" y2="771"/><text class="t" x="496" y="769">636</text>
<line class="d" x1="408" y1="780" x2="427" y2="780"/><line class="d" x1="408" y1="917" x2="423" y2="917"/>
<line class="a" x1="412" y1="780" x2="412" y2="917"/><text class="t" transform="translate(410,848) rotate(-90)">637</text>
<line class="d" x1="427" y1="917" x2="427" y2="931"/><line class="d" x1="565" y1="917" x2="565" y2="931"/>
<line class="d" x1="423" y1="917" x2="423" y2="942"/><line class="d" x1="570" y1="917" x2="570" y2="942"/>
<line class="a" x1="427" y1="928" x2="565" y2="928"/><text class="t" x="496" y="926">652</text>
<line class="a" x1="423" y1="939" x2="570" y2="939"/><text class="t" x="496" y="937">685</text>
</g>

<!-- ============ PANEL 3 RIGHT SIDE (mid PT) ============ -->
<g>
<line class="c" x1="590" y1="798" x2="735" y2="798"/>
<rect class="w" x="723" y="780" width="12" height="123"/>
<line class="m" x1="727" y1="780" x2="727" y2="903"/>
<rect class="m" x="717" y="770" width="18" height="20"/>
<rect class="m" x="735" y="808" width="4" height="95" stroke-dasharray="1.5 1"/>
<circle class="w" cx="729" cy="826" r="3"/>
<circle class="m" cx="729" cy="850" r="1"/><circle class="m" cx="729" cy="890" r="1"/>
<rect class="w" x="603" y="792" width="12" height="13"/>
<rect x="615" y="789" width="33" height="19" fill="url(#hh)" stroke="#464646" stroke-width="0.8"/>
<rect class="m" x="605" y="796" width="43" height="4"/>
<rect class="w" x="648" y="786" width="4" height="25"/>
<rect class="w" x="652" y="785" width="28" height="32"/>
<rect x="680" y="789" width="24" height="17" fill="url(#hv)" stroke="#464646" stroke-width="0.8"/>
<rect class="w" x="704" y="783" width="19" height="28"/>
<path class="w" d="M683,832 L710,820 L723,820 L723,883 L680,883 L680,832 Z"/>
<rect class="m" x="698" y="835" width="18" height="40"/>
<path class="w" d="M650,835 L680,828 L680,875 L643,875 L643,848 Z"/>
<line class="m" x1="680" y1="828" x2="680" y2="875" stroke-dasharray="1.5 1"/>
<rect class="w" x="660" y="802" width="8" height="45"/>
<rect class="m" x="657" y="842" width="14" height="7"/>
<rect class="w" x="617" y="883" width="28" height="35"/>
<rect class="w" x="645" y="893" width="40" height="14"/>
<circle class="m" cx="658" cy="900" r="1.5"/><circle class="m" cx="672" cy="900" r="1.5"/>
<line class="m" x1="645" y1="883" x2="723" y2="883"/>
<rect class="m" x="645" y="910" width="90" height="3"/>
<circle class="w" cx="655" cy="915" r="5"/><circle class="m" cx="655" cy="915" r="2"/>
<circle class="w" cx="725" cy="915" r="5"/><circle class="m" cx="725" cy="915" r="2"/>
<path class="m" d="M735,910 L745,910 L748,915 L741,918 L735,918"/>
<line class="d" x1="588" y1="800" x2="603" y2="800"/><line class="d" x1="588" y1="918" x2="650" y2="918"/>
<line class="a" x1="592" y1="800" x2="592" y2="918"/><text class="t" transform="translate(590,860) rotate(-90)">555</text>
<line class="a" x1="618" y1="883" x2="618" y2="918"/><text class="t" transform="translate(616,900) rotate(-90)">154</text>
<line class="d" x1="624" y1="905" x2="645" y2="905"/>
<line class="d" x1="628" y1="905" x2="628" y2="918"/><text class="t" transform="translate(626,912) rotate(-90)">76</text>
<line class="d" x1="640" y1="885" x2="640" y2="931"/><line class="d" x1="605" y1="806" x2="605" y2="940"/><line class="d" x1="730" y1="918" x2="730" y2="940"/>
<line class="a" x1="640" y1="928" x2="730" y2="928"/><text class="t" x="685" y="926">437</text>
<line class="a" x1="605" y1="937" x2="730" y2="937"/><text class="t" x="667" y="935">600</text>
<line class="d" x1="717" y1="758" x2="717" y2="770"/><line class="d" x1="733" y1="758" x2="733" y2="770"/>
<line class="a" x1="717" y1="762" x2="733" y2="762"/><text class="t" x="725" y="760">80</text>
<line class="e" x1="696" y1="772" x2="717" y2="772"/><text class="t" x="705" y="770">39</text>
</g>

<text class="cap" x="587" y="991">中置 PT 手车外形尺寸</text>

</svg>
</body></html>
